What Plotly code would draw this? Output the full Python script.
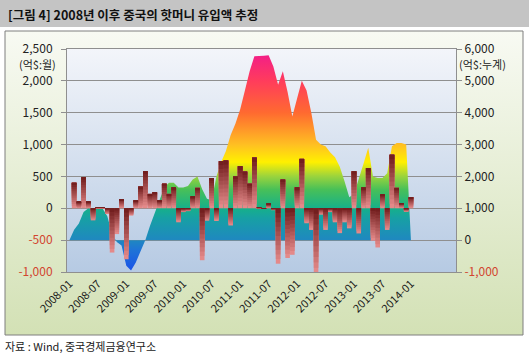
import base64
import plotly.graph_objects as go

# ---------------- data ----------------
months = [f"{y}-{m:02d}" for y in range(2008, 2015) for m in range(1, 13)][:73]  # 2008-01 .. 2014-01
tick_months = months[::6]

# monthly inflow (억$, left axis)
monthly = [None, 400, 100, 490, 100, -190, 15, 15, -90, -695, -405, 140, -800, -115, 120,
           340, 585, 225, 250, 120, 385, 225, 330, -220, -60, -45, 185, 320, -815, -195,
           475, -200, 740, 750, -270, 500, 660, 575, 385, 795, 10, -10, 70, -30, -870,
           450, -780, -730, 330, 775, -235, -340, -1020, -100, -340, -60, -220, -390,
           -220, -315, 580, -395, 330, 630, -510, -615, 215, -340, 840, 320, 80, -55, 175]

# cumulative inflow (억$, right axis)
cumulative = [0, 330, 520, 880, 1000, 980, 990, 990, 750, 200, -60, -170, -800, -950, -700,
              -350, 0, 450, 850, 1300, 1650, 1800, 1800, 1650, 1650, 1700, 1900, 2000, 1600,
              1300, 1250, 2000, 2450, 2800, 3300, 3650, 4100, 4700, 5300, 5770, 5770, 5790,
              5800, 5450, 4880, 5300, 4650, 3880, 4450, 5000, 4700, 4000, 3150, 3000, 2950,
              2750, 2600, 2300, 1850, 1350, 1450, 1900, 2400, 2900, 2000, 1950, 1950, 2100,
              2950, 3050, 3050, 3000, 0]

left_ticks = [-1000, -500, 0, 500, 1000, 1500, 2000, 2500]
right_ticks = [-1000, 0, 1000, 2000, 3000, 4000, 5000, 6000]

title_text = "[그림 4] 2008년 이후 중국의 핫머니 유입액 추정"
source_text = "자료 : Wind, 중국경제금융연구소"
left_unit = "(억$:월)"
right_unit = "(억$:누계)"

# ---------------- geometry helpers ----------------
W, H = 529, 358
L, R, T, B = 67, 456, 49, 272
PW, PH = R - L, B - T


def px(x):
    return (x - L) / PW


def py(y):
    return (B - y) / PH


def fmt(v):
    s = f"{v:,}"
    if v < 0:
        return f'<span style="color:#d2452f">{s}</span>'
    return s


def grad_uri(c1, c2):
    svg = ('<svg xmlns="http://www.w3.org/2000/svg" width="100" height="100" viewBox="0 0 100 100" '
           'preserveAspectRatio="none"><defs><linearGradient id="g" x1="0" y1="0" x2="0" y2="1">'
           f'<stop offset="0" stop-color="{c1}"/><stop offset="1" stop-color="{c2}"/>'
           '</linearGradient></defs><rect width="100" height="100" fill="url(#g)"/></svg>')
    return "data:image/svg+xml;base64," + base64.b64encode(svg.encode()).decode()


def mix(c1, c2, t):
    a = [int(c1[i:i + 2], 16) for i in (1, 3, 5)]
    b = [int(c2[i:i + 2], 16) for i in (1, 3, 5)]
    return "#" + "".join(f"{round(a[i] + (b[i] - a[i]) * t):02x}" for i in range(3))


FONT = "Noto Sans CJK KR"

area_scale = [
    [0.0, "#1a50ea"],
    [0.10, "#1f74d6"],
    [0.143, "#1f88c0"],
    [0.24, "#17a0a4"],
    [0.286, "#16b08a"],
    [0.37, "#48c058"],
    [0.43, "#9cd43c"],
    [0.493, "#fff000"],
    [0.57, "#ffc022"],
    [0.714, "#ff6a30"],
    [0.857, "#ff3c5c"],
    [1.0, "#f01890"],
]

fig = go.Figure()
fig.add_trace(go.Scatter(
    x=months, y=cumulative, yaxis="y", mode="lines", fill="tozeroy",
    line=dict(width=0, color="rgba(0,0,0,0)"),
    fillgradient=dict(type="vertical", colorscale=area_scale, start=-1000, stop=6000),
    hoverinfo="skip", showlegend=False,
))

# monthly bars: drawn as overlapping layers from the bar's top, so each bar shades
# from dark at its top to light at its bottom
BAR_TOP, BAR_BOTTOM = "#6e1a1a", "#e98e8e"
N_LAYERS = 12
for k in range(N_LAYERS):
    e = 1 - k / N_LAYERS          # share of the bar (from its top) covered by this layer
    bases, lengths = [], []
    for v in monthly:
        if v is None:
            bases.append(None)
            lengths.append(None)
        elif v >= 0:
            bases.append(v * (1 - e))
            lengths.append(v * e)
        else:
            bases.append(0)
            lengths.append(v * e)
    fig.add_trace(go.Bar(
        x=months, y=lengths, base=bases, yaxis="y2",
        marker=dict(color=mix(BAR_TOP, BAR_BOTTOM, e - 0.5 / N_LAYERS), line=dict(width=0)),
        showlegend=False, hoverinfo="skip",
    ))

fig.update_layout(
    width=W, height=H, autosize=False,
    margin=dict(l=L, r=W - R, t=T, b=H - B, pad=0),
    paper_bgcolor="white", plot_bgcolor="rgba(0,0,0,0)",
    font=dict(family=FONT, size=12, color="#222222"),
    barmode="overlay", bargap=0.03,
    xaxis=dict(
        type="category", categoryarray=months, range=[-0.5, 81.5],
        tickmode="array", tickvals=tick_months, ticktext=tick_months,
        tickangle=-45, tickfont=dict(size=11, color="#1a1a1a"),
        showgrid=False, showline=True, mirror=True, linecolor="#8f8f8f", linewidth=1,
        ticks="", zeroline=False,
    ),
    yaxis=dict(
        side="right", range=[-1000, 6000],
        tickmode="array", tickvals=right_ticks, ticktext=[fmt(v) for v in right_ticks],
        showgrid=True, gridcolor="#8f8f8f", gridwidth=1, zeroline=False,
        showline=True, linecolor="#8f8f8f", ticks="outside", ticklen=5, tickcolor="#8f8f8f",
        tickfont=dict(size=12),
    ),
    yaxis2=dict(
        side="left", overlaying="y", range=[-1000, 2500],
        tickmode="array", tickvals=left_ticks, ticktext=[fmt(v) for v in left_ticks],
        showgrid=False, zeroline=False,
        showline=True, linecolor="#8f8f8f", ticks="outside", ticklen=5, tickcolor="#8f8f8f",
        ticklabelstandoff=6, tickfont=dict(size=12),
    ),
    images=[
        dict(source=grad_uri("#f8faf3", "#d3e1b5"), xref="paper", yref="paper",
             x=px(5), y=py(31), sizex=518 / PW, sizey=304 / PH,
             xanchor="left", yanchor="top", sizing="stretch", layer="below"),
        dict(source=grad_uri("#f3f5fa", "#b6cae3"), xref="paper", yref="paper",
             x=0, y=1, sizex=1, sizey=1,
             xanchor="left", yanchor="top", sizing="stretch", layer="below"),
    ],
    shapes=[
        dict(type="rect", xref="paper", yref="paper", x0=px(0), x1=px(W), y0=py(0), y1=py(27),
             fillcolor="#c4c4c4", line=dict(width=0), layer="below"),
        dict(type="rect", xref="paper", yref="paper", x0=px(5), x1=px(523), y0=py(31), y1=py(335),
             fillcolor="rgba(0,0,0,0)", line=dict(color="#7f7f7f", width=1), layer="above"),
    ],
    annotations=[
        dict(text=f"<b>{title_text}</b>", xref="paper", yref="paper", x=px(6), y=py(14),
             xanchor="left", yanchor="middle", showarrow=False,
             font=dict(size=12.5, color="#111111")),
        dict(text=source_text, xref="paper", yref="paper", x=px(3), y=py(346),
             xanchor="left", yanchor="middle", showarrow=False,
             font=dict(size=11, color="#222222")),
        dict(text=left_unit, xref="paper", yref="paper", x=px(37), y=py(64),
             xanchor="center", yanchor="middle", showarrow=False,
             font=dict(size=11, color="#222222")),
        dict(text=right_unit, xref="paper", yref="paper", x=px(482), y=py(64),
             xanchor="center", yanchor="middle", showarrow=False,
             font=dict(size=11, color="#222222")),
    ],
)

fig.write_html("out.html", config={"displayModeBar": False},
               post_script="document.body.style.margin='0';document.body.style.padding='0';")
